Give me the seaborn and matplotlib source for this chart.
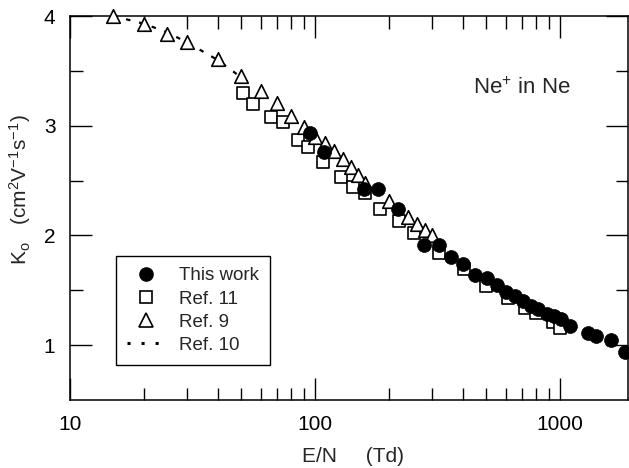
import numpy as np
import pandas as pd
import matplotlib
matplotlib.use("Agg")
import matplotlib.pyplot as plt
import seaborn as sns
from matplotlib.lines import Line2D
from matplotlib.ticker import FixedLocator, NullFormatter, LogLocator

# ---- data ----
this_work_x = [95, 109, 159, 180, 219, 279, 321, 360, 401, 449, 502, 552, 603, 656,
               706, 760, 815, 882, 948, 1010, 1100, 1300, 1400, 1610, 1840]
this_work_y = [2.93, 2.76, 2.42, 2.42, 2.24, 1.91, 1.91, 1.80, 1.74, 1.64, 1.61, 1.55,
               1.48, 1.45, 1.40, 1.36, 1.33, 1.28, 1.27, 1.24, 1.17, 1.11, 1.08, 1.05, 0.94]

ref11_x = [51, 56, 66, 74, 85, 94, 108, 128, 143, 160, 185, 220, 254, 321, 404, 498,
           615, 719, 800, 933, 1000]
ref11_y = [3.30, 3.20, 3.08, 3.03, 2.87, 2.81, 2.67, 2.53, 2.44, 2.39, 2.24, 2.13, 2.02,
           1.84, 1.69, 1.54, 1.43, 1.34, 1.29, 1.21, 1.16]

ref9_x = [15, 20, 25, 30, 40, 50, 60, 70, 80, 90, 100, 110, 120, 130, 140, 150, 160,
          200, 240, 260, 280, 300]
ref9_y = [4.00, 3.93, 3.84, 3.76, 3.61, 3.45, 3.32, 3.21, 3.09, 2.99, 2.90, 2.84, 2.77,
          2.70, 2.62, 2.55, 2.48, 2.31, 2.17, 2.10, 2.05, 2.00]

ref10_x = [15, 20, 25, 30, 40, 50, 53]
ref10_y = [4.00, 3.93, 3.85, 3.76, 3.60, 3.44, 3.40]

x_ticks = [10, 100, 1000]
x_tick_labels = ["10", "100", "1000"]
y_ticks = [1, 2, 3, 4]
y_tick_labels = ["1", "2", "3", "4"]

legend_labels = ["This work", "Ref. 11", "Ref. 9", "Ref. 10"]

# ---- style ----
sns.set_style("ticks")
plt.rcParams["font.family"] = ["Liberation Sans", "DejaVu Sans"]
plt.rcParams["mathtext.fontset"] = "custom"
plt.rcParams["mathtext.rm"] = "Liberation Sans"
plt.rcParams["mathtext.it"] = "Liberation Sans:italic"
plt.rcParams["axes.linewidth"] = 1.1

fig = plt.figure(figsize=(6.29, 4.68), dpi=100)
ax = fig.add_axes([70 / 629, (468 - 400) / 468, 558.3 / 629, 384 / 468])

# Ref. 10 dotted line
sns.lineplot(x=ref10_x, y=ref10_y, ax=ax, color="black", lw=1.6,
             linestyle=(0, (2, 4)), sort=False, estimator=None, zorder=2)
# Ref. 11 squares
sns.scatterplot(x=ref11_x, y=ref11_y, ax=ax, marker="s", s=70, facecolor="white",
                edgecolor="black", linewidth=1.2, zorder=3, clip_on=False)
# Ref. 9 triangles
sns.scatterplot(x=ref9_x, y=ref9_y, ax=ax, marker="^", s=95, facecolor="white",
                edgecolor="black", linewidth=1.2, zorder=4, clip_on=False)
# This work circles
sns.scatterplot(x=this_work_x, y=this_work_y, ax=ax, marker="o", s=100, facecolor="black",
                edgecolor="black", linewidth=0.5, zorder=5, clip_on=False)

ax.set_xscale("log")
ax.set_xlim(10, 1900)
ax.set_ylim(0.5, 4)

ax.xaxis.set_major_locator(FixedLocator(x_ticks))
ax.set_xticklabels(x_tick_labels)
ax.xaxis.set_minor_locator(LogLocator(base=10, subs=np.arange(2, 10), numticks=20))
ax.xaxis.set_minor_formatter(NullFormatter())
ax.yaxis.set_major_locator(FixedLocator(y_ticks))
ax.set_yticklabels(y_tick_labels)
ax.yaxis.set_minor_locator(FixedLocator([1.5, 2.5, 3.5]))

ax.tick_params(which="both", direction="in", top=True, right=True, width=1.0,
               colors="black", labelsize=15, pad=10.5)
ax.tick_params(which="major", length=16)
ax.tick_params(which="minor", length=9)
for sp in ax.spines.values():
    sp.set_color("black")
    sp.set_visible(True)

ax.set_xlabel("E/N     (Td)", fontsize=15)
ax.xaxis.set_label_coords((352.5 - 70) / 558.3, (400 - 447) / 384)
ax.set_ylabel(r"K$_\mathregular{o}$   (cm$^\mathregular{2}$V$^\mathregular{-1}$s$^\mathregular{-1}$)",
              fontsize=15)
ax.yaxis.set_label_coords((33 - 70) / 558.3, (400 - 190) / 384)

ax.text((522 - 70) / 558.3, (400 - 88) / 384, r"Ne$^\mathregular{+}$ in Ne",
        transform=ax.transAxes, ha="center", va="center", fontsize=16)

handles = [
    Line2D([], [], marker="o", color="black", linestyle="none", markersize=9.5),
    Line2D([], [], marker="s", markerfacecolor="white", markeredgecolor="black",
           linestyle="none", markersize=8.2, markeredgewidth=1.2),
    Line2D([], [], marker="^", markerfacecolor="white", markeredgecolor="black",
           linestyle="none", markersize=9.5, markeredgewidth=1.2),
    Line2D([], [], color="black", linestyle=(0, (1.0, 3.6)), lw=2.2),
]
leg = ax.legend(handles, legend_labels, loc="lower left",
                bbox_to_anchor=((116 - 70) / 558.3, (400 - 365) / 384),
                fontsize=13.5, frameon=True, fancybox=False, shadow=False,
                handlelength=2.0, handletextpad=0.75, labelspacing=0.32,
                borderpad=0.6, borderaxespad=0.0)
leg.get_frame().set_edgecolor("black")
leg.get_frame().set_linewidth(1.0)
leg.get_frame().set_alpha(1)

fig.savefig("out.png", dpi=100)
